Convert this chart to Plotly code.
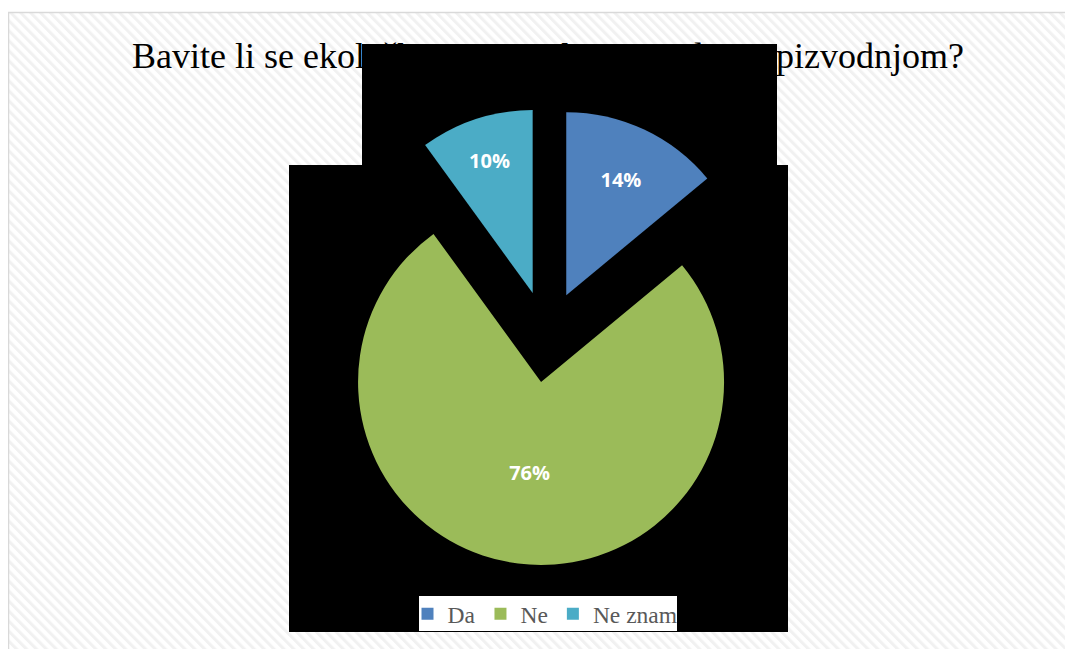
import base64
import plotly.graph_objects as go

# ---- data ----
categories = ["Da", "Ne", "Ne znam"]
values = [14, 76, 10]
colors = ["#4F81BD", "#9BBB59", "#4BACC6"]
title_left = "Bavite li se ekološkom"
title_right = "poljoprivrednom pizvodnjom?"

W, H = 1073, 649
OFF = 8  # page body margin


def fx(px):
    return (px - OFF) / W


def fy(py):
    return 1 - (py - OFF) / H


# pie box (pixels): centre and half-size
cx, cy, half = 546.8, 336.6, 228.75

fig = go.Figure(
    go.Pie(
        labels=categories,
        values=values,
        marker=dict(colors=colors, line=dict(width=0)),
        sort=False,
        direction="clockwise",
        rotation=0,
        pull=[0.25, 0.25, 0.25],
        textinfo="percent",
        textposition="inside",
        insidetextorientation="horizontal",
        textfont=dict(family="Open Sans", size=20, color="white", weight="bold"),
        hoverinfo="label+percent",
        domain=dict(x=[fx(cx - half), fx(cx + half)], y=[fy(cy + half), fy(cy - half)]),
        showlegend=True,
    )
)

stripes = (
    "<svg xmlns='http://www.w3.org/2000/svg' width='1060' height='640'>"
    "<defs><pattern id='p' width='7' height='7' patternUnits='userSpaceOnUse' "
    "patternTransform='rotate(-45)'><rect width='3' height='7' fill='#f1f1f1'/></pattern></defs>"
    "<rect width='100%' height='100%' fill='white'/>"
    "<rect width='100%' height='100%' fill='url(#p)'/></svg>"
)
src = "data:image/svg+xml;base64," + base64.b64encode(stripes.encode()).decode()

fig.update_layout(
    width=W,
    height=H,
    margin=dict(l=0, r=0, t=0, b=0),
    paper_bgcolor="white",
    plot_bgcolor="white",
    images=[
        dict(
            source=src,
            xref="paper",
            yref="paper",
            x=fx(9),
            y=fy(13),
            sizex=fx(1069) - fx(9),
            sizey=fy(13) - fy(660),
            sizing="stretch",
            xanchor="left",
            yanchor="top",
            layer="below",
        )
    ],
    shapes=[
        dict(type="rect", xref="paper", yref="paper", x0=fx(8.5), x1=fx(1069.5), y0=fy(12.5), y1=fy(665),
             line=dict(color="#d9d9d9", width=1.5), fillcolor="rgba(0,0,0,0)", layer="below"),
        dict(type="rect", xref="paper", yref="paper", x0=fx(362), x1=fx(777), y0=fy(44), y1=fy(166),
             line=dict(width=0), fillcolor="black", layer="below"),
        dict(type="rect", xref="paper", yref="paper", x0=fx(289), x1=fx(788), y0=fy(165), y1=fy(632),
             line=dict(width=0), fillcolor="black", layer="below"),
        dict(type="rect", xref="paper", yref="paper", x0=fx(419), x1=fx(677), y0=fy(596), y1=fy(631),
             line=dict(width=0), fillcolor="white", layer="below"),
    ],
    annotations=[
        dict(text=title_left, xref="paper", yref="paper", x=fx(130), y=fy(56), xanchor="left",
             yanchor="middle", showarrow=False,
             font=dict(family="Liberation Serif", size=36, color="black")),
        dict(text=title_right, xref="paper", yref="paper", x=fx(966), y=fy(56), xanchor="right",
             yanchor="middle", showarrow=False,
             font=dict(family="Liberation Serif", size=36, color="black")),
    ],
    legend=dict(
        orientation="h",
        x=fx(545),
        xanchor="center",
        y=fy(614),
        yanchor="middle",
        bgcolor="rgba(0,0,0,0)",
        itemwidth=30,
        font=dict(family="Liberation Serif", size=23.5, color="#595959"),
        itemclick=False,
    ),
)

fig.write_html("out.html")
